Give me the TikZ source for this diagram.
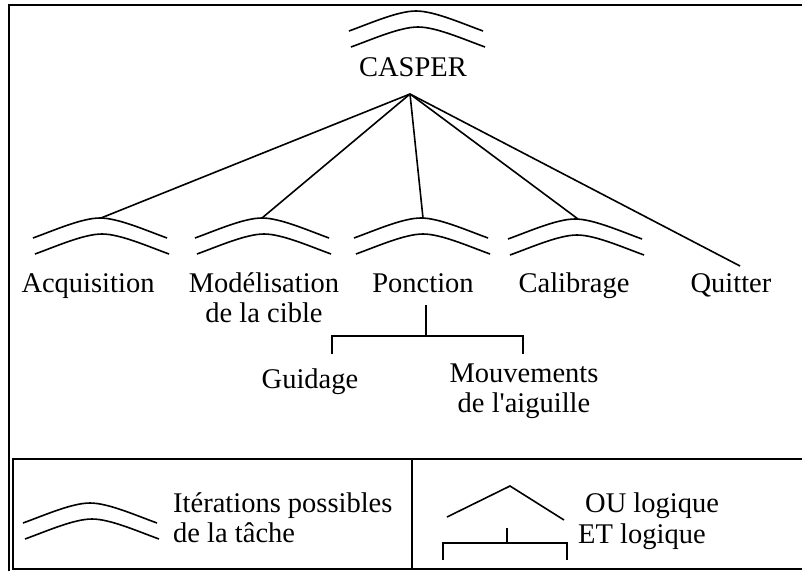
\documentclass[tikz,border=0pt]{standalone}
\usepackage{fontspec}
\setmainfont{Liberation Serif}[Ligatures=TeXOff]
\begin{document}
\begin{tikzpicture}[x=1pt,y=-1pt,
  every node/.style={inner sep=0pt, font=\fontsize{28.5}{30}\selectfont},
  lbl/.style={anchor=base},
  lblw/.style={anchor=base west},
  conn/.style={line width=1.6pt},
  frame/.style={line width=1.8pt},
  iter/.pic={
    \draw[line width=1.6pt] (-67,20) .. controls (-45,12) and (-18,0) .. (0,0)
                            .. controls (18,0) and (45,12) .. (67,20);
    \draw[line width=1.6pt] (-65,36) .. controls (-43,28) and (-16,16) .. (2,16)
                            .. controls (20,16) and (47,28) .. (69,36);
  }]
\useasboundingbox (0,0) rectangle (802,571);
% frames
\draw[frame] (9,571) -- (9,5) -- (802,5);
\draw[frame] (802,459) -- (13,459) -- (13,569) -- (802,569);
\draw[frame] (412,459) -- (412,569);
% root
\pic at (416,11) {iter};
\node[lbl] (casper) at (413,76) {CASPER};
\coordinate (apex) at (410,94);
% children arcs
\pic at (100,218) {iter};
\pic at (262,218) {iter};
\pic at (421,218) {iter};
\pic at (575,219) {iter};
\coordinate (acqtop) at (101,218);
\coordinate (modtop) at (262,218);
\coordinate (pontop) at (423,218);
\coordinate (caltop) at (578,219);
\coordinate (quittop) at (740,266);
\draw[conn] (apex) -- (acqtop);
\draw[conn] (apex) -- (modtop);
\draw[conn] (apex) -- (pontop);
\draw[conn] (apex) -- (caltop);
\draw[conn] (apex) -- (quittop);
% labels
\node[lbl] (acq) at (88,292) {Acquisition};
\node[lbl] (mod1) at (264,292) {Modélisation};
\node[lbl] (mod2) at (264,322) {de la cible};
\node[lbl] (pon) at (423,292) {Ponction};
\node[lbl] (cal) at (574,292) {Calibrage};
\node[lbl] (quit) at (731,292) {Quitter};
% ET under Ponction
\coordinate (etA) at (426,305);
\coordinate (etB) at (426,336);
\coordinate (etL) at (332,336);
\coordinate (etR) at (523,336);
\coordinate (etLd) at (332,354);
\coordinate (etRd) at (523,354);
\draw[conn] (etA) -- (etB);
\draw[conn] (etLd) -- (etL) -- (etR) -- (etRd);
\node[lbl] (gui) at (310,388) {Guidage};
\node[lbl] (mouv1) at (524,382) {Mouvements};
\node[lbl] (mouv2) at (524,412) {de l'aiguille};
% legend left
\pic at (90,503) {iter};
\node[lblw] (leg1a) at (173,512) {Itérations possibles};
\node[lblw] (leg1b) at (173,542) {de la tâche};
% legend right
\coordinate (ouL) at (447,517);
\coordinate (ouP) at (510,486);
\coordinate (ouR) at (564,520);
\draw[conn] (ouL) -- (ouP) -- (ouR);
\node[lblw] (ou) at (585,512) {OU logique};
\coordinate (lL) at (443,560);
\coordinate (lLt) at (443,543);
\coordinate (lRt) at (567,543);
\coordinate (lR) at (567,560);
\coordinate (lM) at (507,528);
\coordinate (lMb) at (507,543);
\draw[conn] (lL) -- (lLt) -- (lRt) -- (lR);
\draw[conn] (lM) -- (lMb);
\node[lblw] (et) at (578,543) {ET logique};
\end{tikzpicture}
\end{document}
